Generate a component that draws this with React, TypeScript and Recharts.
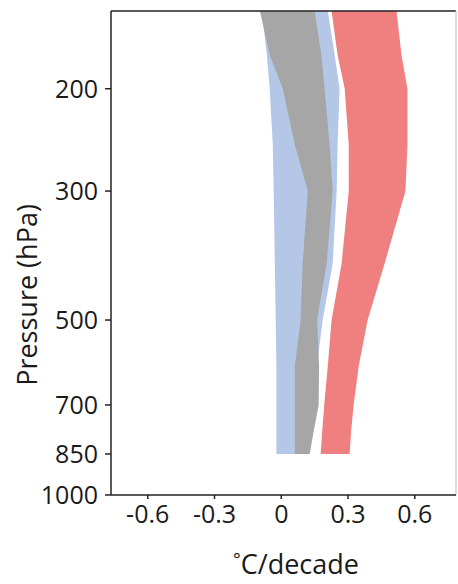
import React from "react";
import {
  ComposedChart,
  Area,
  XAxis,
  YAxis,
  ReferenceLine,
  Label,
} from "recharts";

// pressure levels (hPa) where the band edges were read
const pressure = [147, 175, 200, 250, 300, 400, 500, 600, 700, 775, 850];

// trend ranges, °C/decade
const blueLow = [-0.087, -0.065, -0.052, -0.038, -0.034, -0.029, -0.025, -0.022, -0.022, -0.022, -0.022];
const blueHigh = [0.209, 0.24, 0.262, 0.253, 0.249, 0.231, 0.186, 0.16, 0.15, 0.13, 0.115];
const grayLow = [-0.096, -0.052, 0.007, 0.061, 0.119, 0.096, 0.087, 0.061, 0.061, 0.061, 0.061];
const grayHigh = [0.15, 0.18, 0.195, 0.217, 0.231, 0.204, 0.161, 0.17, 0.168, 0.146, 0.128];
const redLow = [0.226, 0.253, 0.285, 0.303, 0.303, 0.271, 0.226, 0.209, 0.193, 0.184, 0.177];
const redHigh = [0.518, 0.54, 0.567, 0.567, 0.558, 0.464, 0.388, 0.348, 0.325, 0.314, 0.307];

const xTicks = [-0.6, -0.3, 0, 0.3, 0.6];
const yTicks = [200, 300, 500, 700, 850, 1000];

const data = pressure.map((p, i) => ({
  p,
  blue: [blueLow[i], blueHigh[i]],
  gray: [grayLow[i], grayHigh[i]],
  red: [redLow[i], redHigh[i]],
}));

const font = "'Open Sans', sans-serif";
const tickStyle = { fill: "#1a1a1a", fontSize: 25, fontFamily: font };
const labelStyle = { fill: "#1a1a1a", fontSize: 27, fontFamily: font };

export default function App() {
  return (
    <div style={{ position: "absolute", left: 0, top: 0 }}>
      <ComposedChart
        width={458}
        height={584}
        data={data}
        layout="vertical"
        margin={{ top: 11, right: 2, left: 0, bottom: 0 }}
      >
        <XAxis
          type="number"
          domain={[-0.765, 0.785]}
          ticks={xTicks}
          tickFormatter={(v) => String(v)}
          allowDataOverflow
          height={89}
          tick={tickStyle}
          tickSize={4}
          tickMargin={6}
          stroke="#222"
          strokeWidth={1.5}
        >
          <Label
            content={() => (
              <text x={296} y={574} textAnchor="middle" style={labelStyle}>
                <tspan fontSize={18} dy={-8}>°</tspan>
                <tspan dy={8}>C/decade</tspan>
              </text>
            )}
          />
        </XAxis>
        <YAxis
          type="number"
          dataKey="p"
          scale="log"
          domain={[147, 1000]}
          ticks={yTicks}
          allowDataOverflow
          width={111}
          tick={tickStyle}
          tickSize={6}
          tickMargin={7}
          stroke="#222"
          strokeWidth={1.5}
        >
          <Label
            content={() => (
              <text
                x={37}
                y={295}
                textAnchor="middle"
                transform="rotate(-90 37 295)"
                style={labelStyle}
              >
                Pressure (hPa)
              </text>
            )}
          />
        </YAxis>
        <Area
          dataKey="blue"
          type="linear"
          fill="#b4c7e7"
          fillOpacity={1}
          stroke="none"
          isAnimationActive={false}
        />
        <Area
          dataKey="gray"
          type="linear"
          fill="#a6a6a6"
          fillOpacity={1}
          stroke="none"
          isAnimationActive={false}
        />
        <Area
          dataKey="red"
          type="linear"
          fill="#f08080"
          fillOpacity={1}
          stroke="none"
          isAnimationActive={false}
        />
        <ReferenceLine y={147} stroke="#222" strokeWidth={1.5} />
        <ReferenceLine x={0.785} stroke="#bbb" strokeWidth={1} />
      </ComposedChart>
    </div>
  );
}
